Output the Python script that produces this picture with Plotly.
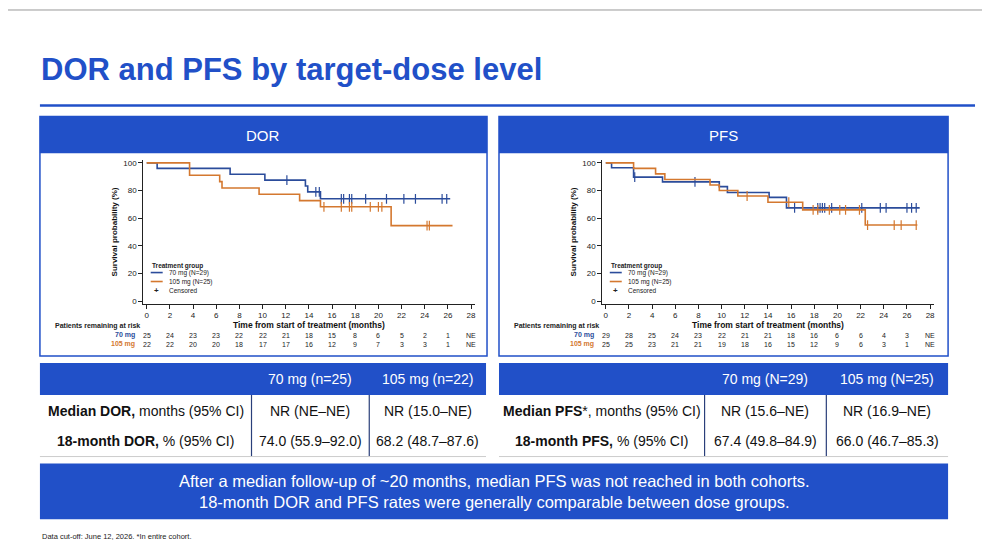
import plotly.graph_objects as go

# ---------------- data ----------------
months_ticks = list(range(0, 30, 2))
dor70_t = [0, 0.9, 7.2, 10.2, 13.7, 13.9, 15.0]
dor70_s = [100, 96, 91.7, 87.5, 83.3, 79, 74]
dor70_end = 26.2
dor70_cens = [12.1, 14.6, 14.9, 16.8, 17.0, 17.5, 17.7, 18.9, 20.7, 22.2, 23.2, 25.5, 25.9]
dor105_t = [0, 3.7, 6.3, 6.5, 9.7, 13.2, 15.0, 21.1]
dor105_s = [100, 91, 86.4, 81.8, 77.3, 72.7, 68.2, 54.6]
dor105_end = 26.4
dor105_cens = [15.3, 16.8, 17.5, 17.7, 19.3, 20.0, 20.3, 24.2, 24.4]

pfs70_t = [0, 0.5, 2.4, 4.9, 9.8, 10.5, 14.1, 15.6]
pfs70_s = [100, 96.5, 89.7, 86.2, 82.8, 78.5, 75, 67.4]
pfs70_end = 27.1
pfs70_cens = [2.5, 7.7, 16.3, 18.3, 18.5, 18.7, 18.9, 19.5, 22.1, 23.7, 24.2, 26.0, 26.4, 26.8]
pfs105_t = [0, 2.4, 4.3, 5.1, 9.0, 9.8, 11.4, 14.0, 17.0, 22.4]
pfs105_s = [100, 96, 92, 88, 84, 80, 76, 71.5, 66, 55]
pfs105_end = 26.9
pfs105_cens = [12.2, 15.8, 17.9, 18.3, 19.3, 20.2, 20.7, 21.9, 22.6, 24.9, 25.5, 26.8]

dor_risk70 = ["25", "24", "23", "23", "22", "22", "21", "18", "15", "8", "6", "5", "2", "1", "NE"]
dor_risk105 = ["22", "22", "20", "20", "18", "17", "17", "16", "12", "9", "7", "3", "3", "1", "NE"]
pfs_risk70 = ["29", "28", "25", "24", "23", "22", "21", "21", "18", "16", "6", "6", "4", "3", "NE"]
pfs_risk105 = ["25", "25", "23", "21", "21", "19", "18", "16", "15", "12", "9", "6", "3", "1", "NE"]

dor_cols = ["70 mg (n=25)", "105 mg (n=22)"]
dor_rows = ["<b>Median DOR,</b> months (95% CI)", "<b>18-month DOR,</b> % (95% CI)"]
dor_vals = [["NR (NE–NE)", "NR (15.0–NE)"], ["74.0 (55.9–92.0)", "68.2 (48.7–87.6)"]]
pfs_cols = ["70 mg (N=29)", "105 mg (N=25)"]
pfs_rows = ["<b>Median PFS</b>*, months (95% CI)", "<b>18-month PFS,</b> % (95% CI)"]
pfs_vals = [["NR (15.6–NE)", "NR (16.9–NE)"], ["67.4 (49.8–84.9)", "66.0 (46.7–85.3)"]]

# ---------------- styling ----------------
OFF = 8
W, H = 990 - OFF, 560 - OFF
BLUE = "#2150c8"
C70 = "#2b4c9b"
C105 = "#d4782f"
FONT = "Liberation Sans"

def px(x): return (x - OFF) / W
def py(y): return 1 - (y - OFF) / H

fig = go.Figure()

def surv_at(ts, ss, t):
    v = ss[0]
    for a, b in zip(ts, ss):
        if a <= t:
            v = b
    return v

def add_km(ts, ss, end, cens, color, xa, ya):
    xs = list(ts) + [end]
    ys = list(ss) + [ss[-1]]
    fig.add_trace(go.Scatter(x=xs, y=ys, mode="lines", line=dict(color=color, width=1.6, shape="hv"),
                             xaxis=xa, yaxis=ya, showlegend=False, hoverinfo="skip"))
    fig.add_trace(go.Scatter(x=cens, y=[surv_at(ts, ss, c) for c in cens], mode="markers",
                             marker=dict(symbol="line-ns", size=7, line=dict(color=color, width=1.2)),
                             xaxis=xa, yaxis=ya, showlegend=False, hoverinfo="skip"))

add_km(dor70_t, dor70_s, dor70_end, dor70_cens, C70, "x", "y")
add_km(dor105_t, dor105_s, dor105_end, dor105_cens, C105, "x", "y")
add_km(pfs70_t, pfs70_s, pfs70_end, pfs70_cens, C70, "x2", "y2")
add_km(pfs105_t, pfs105_s, pfs105_end, pfs105_cens, C105, "x2", "y2")

shapes, ann = [], []

def text(t, x, y, size, color="#111", xanchor="center", xref="paper", align="center"):
    ann.append(dict(text=t, x=x, y=y, xref=xref, yref="paper", xanchor=xanchor, yanchor="middle",
                    showarrow=False, align=align, font=dict(family=FONT, size=size, color=color)))

shapes.append(dict(type="line", xref="paper", yref="paper", x0=0, x1=1, y0=py(9), y1=py(9), line=dict(color="#999", width=1)))
shapes.append(dict(type="line", xref="paper", yref="paper", x0=px(40), x1=px(977), y0=py(105), y1=py(105), line=dict(color=BLUE, width=2.5)))
text("<b>DOR and PFS by target-dose level</b>", px(39), py(69), 31, BLUE, "left")

axis_common = dict(showgrid=False, zeroline=False, showline=True, linecolor="#222", linewidth=1,
                   ticks="outside", ticklen=4, tickcolor="#222", tickfont=dict(family=FONT, size=8, color="#222"))

panels = [(40, 488, "DOR", 147, "x", dor_risk70, dor_risk105, "", ""),
          (500, 950, "PFS", 607, "x2", pfs_risk70, pfs_risk105, "2", "2")]
for (L, R, name, x0px, xa, r70, r105, xs, ys) in panels:
    shapes.append(dict(type="rect", xref="paper", yref="paper", x0=px(L), x1=px(R), y0=py(357), y1=py(116), line=dict(color=BLUE, width=1.5)))
    shapes.append(dict(type="rect", xref="paper", yref="paper", x0=px(L), x1=px(R), y0=py(153), y1=py(116), fillcolor=BLUE, line=dict(width=0)))
    text(name, px((L + R) / 2), py(135), 15, "white")
    ppm = 325 / 28
    fig.update_layout(**{
        "xaxis" + xs: dict(axis_common, domain=[px(x0px - 0.3 * ppm), px(x0px + 28.3 * ppm)], range=[-0.3, 28.3],
                           tickvals=months_ticks, anchor="y" + ys,
                           title=dict(text="<b>Time from start of treatment (months)</b>", standoff=2, font=dict(family=FONT, size=8.5, color="#111"))),
        "yaxis" + ys: dict(axis_common, domain=[py(304.5), py(159.9)], range=[-2, 102], tickvals=[0, 20, 40, 60, 80, 100],
                           anchor="x" + xs,
                           title=dict(text="<b>Survival probability (%)</b>", standoff=4, font=dict(family=FONT, size=8, color="#111"))),
    })
    lx = x0px + 3
    text("<b>Treatment group</b>", px(lx), py(266), 6.5, "#222", "left")
    for yy, col, lab in [(273, C70, "70 mg (N=29)"), (282, C105, "105 mg (N=25)")]:
        shapes.append(dict(type="line", xref="paper", yref="paper", x0=px(lx + 1), x1=px(lx + 13), y0=py(yy), y1=py(yy), line=dict(color=col, width=1.6)))
        text(lab, px(lx + 17), py(yy), 6.5, "#222", "left")
    text("<b>+</b>", px(lx + 7), py(291), 8, "#222")
    text("Censored", px(lx + 17), py(291), 6.5, "#222", "left")
    text("<b>Patients remaining at risk</b>", px(L + 13), py(327), 7, "#222", "left")
    for yy, col, lab, vals in [(336, C70, "70 mg", r70), (345, C105, "105 mg", r105)]:
        text("<b>" + lab + "</b>", px(x0px - 10), py(yy), 7, col, "right")
        for t, v in zip(months_ticks, vals):
            text(v, t, py(yy), 7, "#222", "center", xref=xa)

tables = [(40, 252, 370, 487, dor_cols, dor_rows, dor_vals),
          (500, 706, 828, 950, pfs_cols, pfs_rows, pfs_vals)]
for (a, b, c, d, cols, rows, vals) in tables:
    shapes.append(dict(type="rect", xref="paper", yref="paper", x0=px(a), x1=px(d), y0=py(396), y1=py(364), fillcolor=BLUE, line=dict(width=0)))
    for xx in (b, c):
        shapes.append(dict(type="line", xref="paper", yref="paper", x0=px(xx), x1=px(xx), y0=py(458), y1=py(396), line=dict(color="#2a3f7a", width=1.2)))
    shapes.append(dict(type="line", xref="paper", yref="paper", x0=px(a), x1=px(d), y0=py(458), y1=py(458), line=dict(color="#ccc", width=1)))
    for (x0_, x1_), lab in zip([(b, c), (c, d)], cols):
        text(lab, px((x0_ + x1_) / 2), py(380), 14, "white")
    for yy, rl, rv in zip([412, 442], rows, vals):
        text(rl, px((a + b) / 2), py(yy), 14)
        for (x0_, x1_), v in zip([(b, c), (c, d)], rv):
            text(v, px((x0_ + x1_) / 2), py(yy), 14)

shapes.append(dict(type="rect", xref="paper", yref="paper", x0=px(40), x1=px(950), y0=py(521), y1=py(465), fillcolor=BLUE, line=dict(width=0)))
text("After a median follow-up of ~20 months, median PFS was not reached in both cohorts.<br>18-month DOR and PFS rates were generally comparable between dose groups.",
     px(495), py(493), 16.5, "white")
text("Data cut-off: June 12, 2026. *In entire cohort.", px(40), py(538), 7.5, "#222", "left")

fig.update_layout(width=W, height=H, margin=dict(l=0, r=0, t=0, b=0), paper_bgcolor="white", plot_bgcolor="white",
                  shapes=shapes, annotations=ann, showlegend=False)
fig.write_html("out.html")
